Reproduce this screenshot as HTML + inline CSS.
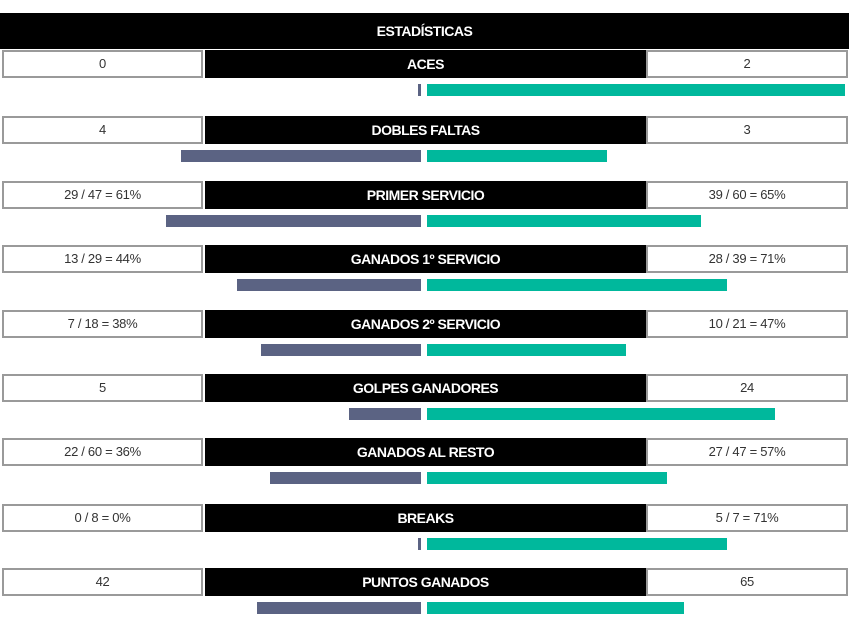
<!DOCTYPE html>
<html><head><meta charset="utf-8"><style>
body{margin:0;width:854px;height:640px;background:#fff;position:relative;overflow:hidden;font-family:"Liberation Sans",sans-serif;}
div{position:absolute;box-sizing:border-box;}
.hd{left:0;top:13px;width:849px;height:36px;background:#000;color:#fff;font-weight:bold;font-size:14px;text-align:center;line-height:36px;letter-spacing:-0.5px}
.bx{height:28px;border:2px solid #9a9a9a;background:#fff;color:#333;font-size:13px;text-align:center;line-height:24px;letter-spacing:-0.3px}
.c{height:28px;background:#000;color:#fff;font-weight:bold;font-size:14px;text-align:center;line-height:28px;letter-spacing:-0.5px}
.l{height:12px;background:#5b6383}
.r{height:12px;background:#00b89c}
</style></head><body>
<div class="hd">ESTADÍSTICAS</div>
<script>
const rows=[
["0","ACES","2",418,845],
["4","DOBLES FALTAS","3",181,607],
["29 / 47 = 61%","PRIMER SERVICIO","39 / 60 = 65%",166,701],
["13 / 29 = 44%","GANADOS 1º SERVICIO","28 / 39 = 71%",237,727],
["7 / 18 = 38%","GANADOS 2º SERVICIO","10 / 21 = 47%",261,626],
["5","GOLPES GANADORES","24",349,775],
["22 / 60 = 36%","GANADOS AL RESTO","27 / 47 = 57%",270,667],
["0 / 8 = 0%","BREAKS","5 / 7 = 71%",418,727],
["42","PUNTOS GANADOS","65",257,684]];
const tops=[50,116,181,245,310,374,438,504,568];
let h="";
rows.forEach((r,i)=>{const t=tops[i];
h+=`<div class="bx" style="left:2px;top:${t}px;width:201px">${r[0]}</div>`;
h+=`<div class="c" style="left:205px;top:${t}px;width:441px">${r[1]}</div>`;
h+=`<div class="bx" style="left:646px;top:${t}px;width:202px">${r[2]}</div>`;
h+=`<div class="l" style="left:${r[3]}px;top:${t+34}px;width:${421-r[3]}px"></div>`;
h+=`<div class="r" style="left:427px;top:${t+34}px;width:${r[4]-427}px"></div>`;});
document.write(h);
</script>
</body></html>
